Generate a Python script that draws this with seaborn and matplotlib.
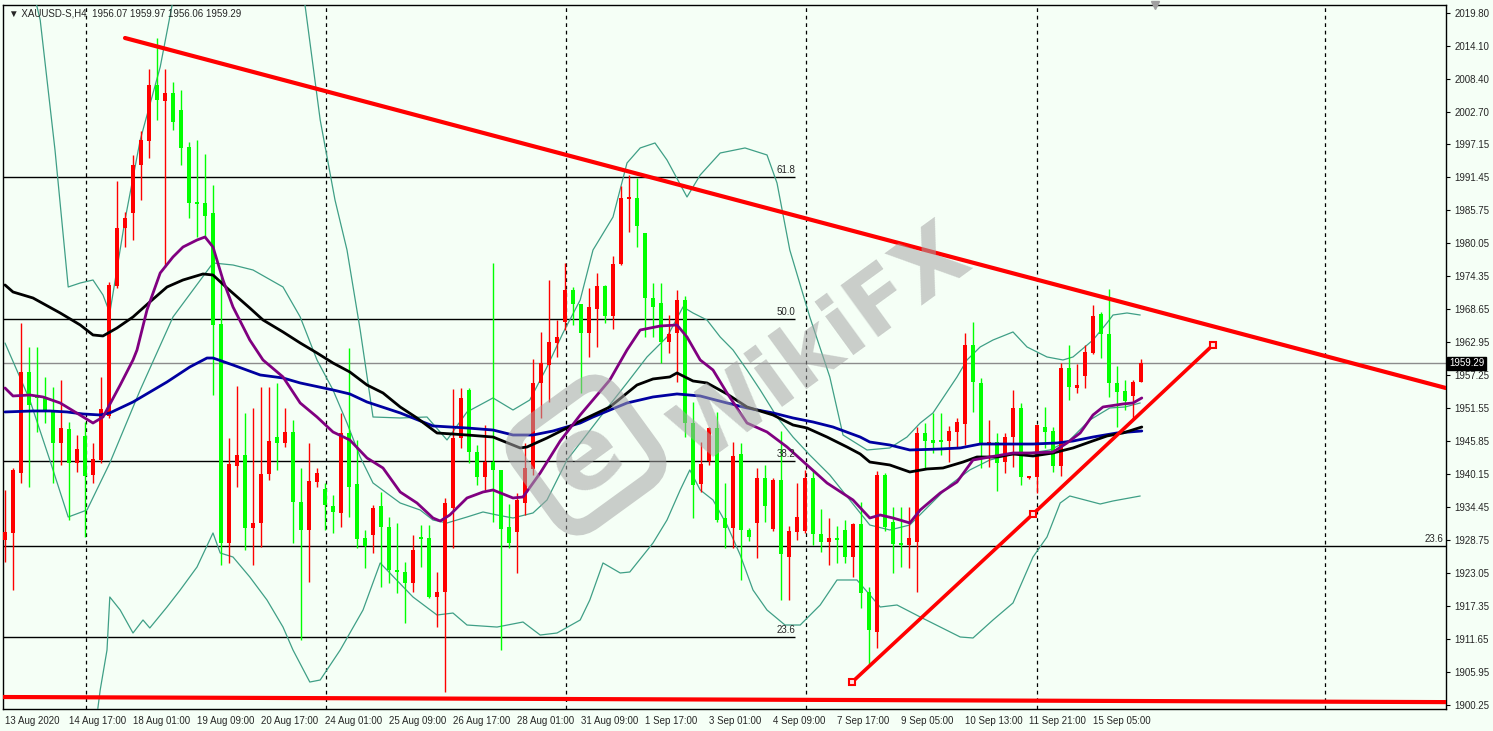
# XAUUSD H4 chart (MT4 style) - candles, moving averages, bands, fib levels, trend lines
import numpy as np
import pandas as pd
import matplotlib
matplotlib.use("Agg")
import matplotlib.pyplot as plt
import matplotlib.transforms as mtransforms
from matplotlib.patches import FancyBboxPatch
import seaborn as sns

# ---------------------------------
# Data
# ---------------------------------
opens = [1928.75, 1929.96, 1940.33, 1957.78, 1953.60, 1953.29, 1951.22, 1945.51, 1947.93, 1942.05,
         1946.72, 1939.98, 1942.57, 1950.18, 1972.64, 1982.66, 1985.25, 1993.54, 1997.69, 2007.36,
         2004.60, 2005.98, 2003.04, 1996.65, 1987.15, 1986.98, 1985.25, 1966.07, 1928.23, 1941.53,
         1943.43, 1930.82, 1931.69, 1940.15, 1946.54, 1945.51, 1947.41, 1935.32, 1930.48, 1938.77,
         1937.56, 1934.63, 1933.42, 1947.24, 1938.43, 1929.09, 1929.61, 1934.63, 1930.99, 1923.56,
         1923.22, 1921.32, 1929.27, 1929.09, 1918.91, 1919.76, 1934.28, 1946.37, 1954.67, 1943.95,
         1939.64, 1942.22, 1940.85, 1931.00, 1930.13, 1935.14, 1941.02, 1955.88, 1958.98, 1962.79,
         1966.42, 1971.95, 1969.53, 1964.52, 1968.66, 1972.64, 1967.45, 1976.44, 1987.67, 1987.84,
         1981.79, 1970.56, 1969.70, 1962.96, 1964.52, 1970.22, 1948.96, 1938.43, 1942.40, 1948.10,
         1932.55, 1930.82, 1943.61, 1930.48, 1931.69, 1939.46, 1930.65, 1939.12, 1925.81, 1930.13,
         1930.30, 1939.46, 1929.78, 1928.40, 1929.09, 1930.48, 1925.81, 1931.51, 1919.76, 1912.85,
         1939.98, 1931.86, 1928.23, 1927.88, 1928.40, 1947.24, 1946.03, 1945.85, 1945.85, 1947.41,
         1948.79, 1962.44, 1955.88, 1945.16, 1945.68, 1942.22, 1946.54, 1951.56, 1939.46, 1939.64,
         1948.27, 1947.58, 1941.53, 1958.47, 1955.00, 1957.09, 1961.06, 1967.80, 1964.34, 1955.88,
         1954.49, 1953.63, 1956.07]
highs = [1937.39, 1941.19, 1966.25, 1962.06, 1962.06, 1956.92, 1955.19, 1956.40, 1949.14, 1946.89,
         1949.14, 1945.51, 1956.92, 1973.33, 1990.78, 1985.42, 1995.27, 1999.41, 2010.13, 2015.48,
         2010.13, 2007.88, 2006.50, 1997.52, 1997.86, 1995.44, 1990.09, 1974.19, 1946.37, 1955.36,
         1950.70, 1951.56, 1955.19, 1955.19, 1955.88, 1951.56, 1949.48, 1941.19, 1945.51, 1941.19,
         1938.60, 1936.53, 1950.70, 1961.88, 1946.03, 1930.48, 1934.80, 1937.04, 1932.72, 1931.69,
         1924.95, 1929.61, 1931.34, 1931.34, 1923.22, 1936.01, 1954.83, 1955.01, 1955.01, 1945.16,
         1948.62, 1976.61, 1940.85, 1934.97, 1936.87, 1945.51, 1960.02, 1964.69, 1973.67, 1966.76,
         1976.61, 1972.46, 1969.53, 1972.29, 1974.88, 1972.81, 1977.82, 1989.91, 1991.81, 1991.29,
         1981.79, 1973.15, 1973.15, 1967.62, 1971.95, 1970.91, 1952.59, 1945.68, 1948.27, 1950.87,
         1938.60, 1945.68, 1945.51, 1930.82, 1941.19, 1941.71, 1939.50, 1947.58, 1931.17, 1938.60,
         1940.85, 1940.85, 1934.11, 1932.55, 1931.17, 1932.20, 1931.60, 1935.32, 1920.63, 1940.67,
         1940.30, 1934.46, 1934.46, 1934.46, 1948.27, 1948.96, 1950.70, 1950.70, 1948.44, 1949.83,
         1964.52, 1966.42, 1956.74, 1949.48, 1947.24, 1947.24, 1954.67, 1952.42, 1939.80, 1948.70,
         1951.73, 1948.27, 1959.33, 1962.44, 1959.16, 1962.44, 1969.35, 1968.14, 1972.12, 1958.81,
         1956.40, 1956.40, 1959.97]
lows = [1924.95, 1920.11, 1938.60, 1937.91, 1947.41, 1948.96, 1938.60, 1941.71, 1932.20, 1940.50,
        1929.27, 1938.60, 1942.05, 1949.83, 1972.29, 1979.37, 1980.58, 1987.49, 1994.75, 2001.31,
        1975.92, 1999.59, 1993.54, 1984.39, 1981.10, 1981.10, 1953.80, 1924.43, 1924.78, 1937.91,
        1927.02, 1924.43, 1927.54, 1939.12, 1940.85, 1944.82, 1928.23, 1911.48, 1921.49, 1937.91,
        1930.48, 1929.96, 1930.99, 1932.72, 1927.37, 1923.91, 1926.50, 1920.63, 1921.32, 1919.59,
        1914.40, 1919.76, 1924.08, 1918.74, 1913.71, 1902.48, 1927.37, 1944.65, 1942.05, 1938.25,
        1937.39, 1931.86, 1909.75, 1927.37, 1923.05, 1933.07, 1939.98, 1949.83, 1952.59, 1960.37,
        1965.03, 1965.90, 1954.15, 1960.37, 1962.06, 1966.25, 1965.20, 1976.20, 1981.96, 1979.37,
        1963.82, 1963.82, 1959.33, 1961.06, 1956.05, 1946.54, 1932.55, 1937.04, 1941.71, 1931.86,
        1927.37, 1927.37, 1921.84, 1928.58, 1925.64, 1931.86, 1930.30, 1918.39, 1918.39, 1928.75,
        1930.00, 1927.88, 1926.68, 1924.43, 1924.78, 1924.78, 1922.36, 1917.02, 1907.15, 1910.08,
        1930.30, 1923.05, 1924.08, 1923.91, 1919.76, 1941.19, 1943.78, 1943.43, 1942.22, 1944.82,
        1945.16, 1950.87, 1941.19, 1941.36, 1937.22, 1940.33, 1941.36, 1938.25, 1939.30, 1936.87,
        1944.65, 1940.50, 1939.81, 1952.94, 1954.15, 1955.01, 1960.90, 1960.20, 1953.46, 1948.27,
        1951.22, 1949.66, 1956.06]
closes = [1930.13, 1940.85, 1957.78, 1952.08, 1953.20, 1951.22, 1945.51, 1948.10, 1942.05, 1944.47,
          1939.81, 1942.74, 1951.39, 1972.81, 1982.66, 1984.39, 1993.54, 1997.86, 2007.36, 2004.77,
          2005.98, 2000.97, 1996.48, 1986.98, 1986.80, 1984.73, 1965.90, 1928.23, 1941.88, 1943.43,
          1930.82, 1931.69, 1940.15, 1945.85, 1945.51, 1947.41, 1935.32, 1930.48, 1938.94, 1940.33,
          1934.80, 1933.59, 1947.24, 1937.91, 1928.92, 1927.71, 1934.28, 1930.99, 1923.56, 1923.22,
          1921.32, 1927.02, 1928.92, 1918.91, 1919.76, 1935.14, 1946.37, 1953.29, 1943.95, 1939.64,
          1942.22, 1940.85, 1930.65, 1928.23, 1935.66, 1941.19, 1955.88, 1959.33, 1962.96, 1963.82,
          1971.95, 1969.53, 1964.52, 1969.01, 1972.64, 1967.45, 1976.44, 1987.84, 1987.84, 1983.00,
          1970.56, 1969.01, 1962.96, 1964.34, 1970.22, 1948.96, 1938.25, 1941.88, 1948.10, 1932.20,
          1930.82, 1943.26, 1930.48, 1929.27, 1939.46, 1934.63, 1939.12, 1926.33, 1930.30, 1932.72,
          1939.46, 1929.78, 1928.40, 1929.09, 1928.75, 1925.81, 1931.51, 1919.59, 1913.20, 1939.98,
          1931.00, 1928.06, 1927.88, 1929.09, 1947.24, 1945.85, 1945.51, 1945.68, 1947.58, 1949.14,
          1962.44, 1956.05, 1945.16, 1945.68, 1942.05, 1946.54, 1951.56, 1939.64, 1939.64, 1948.62,
          1947.41, 1941.53, 1958.47, 1955.19, 1955.54, 1961.23, 1967.45, 1964.34, 1955.88, 1954.32,
          1952.77, 1956.05, 1959.29]

# fast MA (purple)
ma_fast_x = [0, 1, 3.1, 4.75, 6.9, 8.75, 11, 12.25, 14.4, 16, 16.5, 17.75, 19.4, 21, 22.25, 24, 25, 26,
             27.25, 28.5, 30.6, 32.25, 34.75, 36.9, 39, 41, 43.1, 45.25, 47.25, 49.4, 51.5, 53.5, 54.4,
             55.6, 57.75, 59.75, 61, 63.5, 64.75, 66.9, 69.4, 71.9, 75.6, 77.75, 79.4, 81.9, 84, 85.25,
             86.9, 88.5, 90.25, 92.75, 95.25, 97.75, 100.25, 102.75, 106, 108.1, 109.4, 111, 113.1,
             114.4, 116.9, 119, 121, 123.1, 126, 128.1, 131, 132.75, 134.4, 136, 137.25, 139.75, 141, 142.1]
ma_fast_y = [1955.01, 1953.63, 1953.80, 1953.46, 1952.42, 1950.87, 1948.96, 1950.00, 1955.53, 1959.85,
             1961.58, 1968.49, 1974.88, 1977.65, 1979.37, 1980.58, 1981.10, 1979.37, 1973.67, 1969.01,
             1963.30, 1959.85, 1956.92, 1952.42, 1950.00, 1947.41, 1946.03, 1942.92, 1941.19, 1937.04,
             1935.14, 1932.55, 1932.03, 1933.07, 1936.01, 1937.04, 1937.39, 1936.01, 1936.18, 1940.33,
             1945.85, 1950.35, 1956.39, 1961.58, 1965.03, 1965.72, 1965.90, 1963.82, 1959.85, 1958.12,
             1954.15, 1948.96, 1947.41, 1944.82, 1941.71, 1938.60, 1935.66, 1932.55, 1933.07, 1932.55,
             1931.69, 1933.93, 1936.87, 1938.77, 1942.57, 1943.09, 1943.78, 1943.78, 1943.95, 1945.51,
             1947.24, 1950.35, 1951.73, 1952.25, 1952.42, 1953.29]

# medium MA (black)
ma_mid_x = [0, 1, 3.5, 6.9, 9.4, 11, 12.25, 14, 16, 18.1, 20.25, 22.25, 24.75, 26, 27.75, 30.6, 32.25,
            34.75, 36.9, 39, 41, 43.1, 45.25, 47.25, 49.4, 51.5, 54, 57.75, 61, 64.4, 65.25, 67.75,
            70.25, 71.9, 75.6, 79, 81, 83.1, 84, 86, 87.75, 90.25, 92.75, 96, 98.5, 100.25, 102.75,
            105.25, 106.9, 108.1, 110.6, 113.1, 115.25, 117.25, 119.75, 121.5, 124, 126, 128.5, 131,
            133.5, 135.6, 137.75, 139.75, 142.1]
ma_mid_y = [1972.81, 1971.60, 1970.56, 1967.97, 1965.90, 1964.17, 1964.00, 1965.38, 1967.28, 1969.87,
            1972.46, 1973.67, 1974.71, 1974.53, 1972.29, 1968.83, 1966.76, 1964.69, 1962.79, 1961.06,
            1959.33, 1957.78, 1955.53, 1954.15, 1951.73, 1949.83, 1947.24, 1946.89, 1946.54, 1944.65,
            1944.82, 1946.37, 1948.10, 1949.31, 1951.73, 1955.53, 1956.57, 1956.92, 1957.61, 1956.22,
            1955.88, 1953.98, 1951.73, 1950.35, 1948.62, 1948.10, 1946.54, 1944.82, 1943.61, 1942.22,
            1941.71, 1940.50, 1941.02, 1941.19, 1942.22, 1943.09, 1943.09, 1943.61, 1943.26, 1943.78,
            1944.65, 1945.68, 1946.72, 1947.24, 1948.27]

# slow MA (blue)
ma_slow_x = [0, 3.5, 5.6, 7.75, 9.75, 11.9, 13.1, 16, 20.25, 23.1, 25.25, 26, 28.5, 31.9, 34.75, 36.9,
             41, 43.1, 45.25, 49.4, 53.5, 57.75, 61, 63.5, 66, 68.5, 71.9, 73.5, 77.75, 81, 84, 86.9,
             90.25, 92.75, 96, 98.5, 101, 103.5, 106.9, 108.1, 110.6, 113.1, 116.9, 119.4, 121.9,
             125.25, 128.5, 131.5, 133.5, 136, 139, 142.1]
ma_slow_y = [1950.87, 1951.04, 1951.04, 1950.87, 1950.52, 1950.35, 1950.70, 1952.59, 1956.05, 1958.64,
             1960.19, 1960.19, 1958.98, 1957.26, 1956.74, 1955.88, 1954.67, 1953.98, 1952.59, 1950.70,
             1948.45, 1948.10, 1947.75, 1946.89, 1946.89, 1947.58, 1948.96, 1950.00, 1952.42, 1953.46,
             1953.98, 1953.63, 1952.42, 1951.56, 1950.70, 1949.83, 1949.14, 1948.27, 1946.54, 1945.68,
             1945.16, 1944.30, 1944.47, 1944.65, 1945.33, 1945.33, 1945.33, 1945.51, 1945.85, 1946.54,
             1947.24, 1947.58]

# band lines (thin teal)
band_up_a_x = [3.5, 4.4, 6.25, 7.9, 9.4, 11, 12.25, 13.1, 15, 16.9, 19.4, 21.25]
band_up_a_y = [2023.77, 2018.59, 1996.13, 1972.46, 1973.15, 1973.67, 1971.08, 1967.97, 1984.04,
               1997.86, 2010.47, 2023.77]
band_up_b_x = [36.9, 37.5, 39.4, 41.25, 42.75, 44.4, 46, 49.4, 52.75, 55.25, 57.75, 61, 63.5, 65.6,
               67.75, 69.75, 71.9, 73.5, 76, 77.75, 79.4, 81.25, 82.75, 85.25, 86.9, 89.4, 92.5,
               95.25, 96.5, 98.1, 100.6, 103.1, 104.75, 107.75, 110.6, 112.75, 114.4, 116, 119,
               120.25, 121.9, 123.5, 126, 127.75, 130.25, 132.25, 133.5, 136, 137.75, 138.5, 140.25, 141.9]
band_up_b_y = [2023.77, 2021.18, 2001.31, 1987.49, 1978.85, 1965.03, 1950.00, 1949.83, 1950.00, 1946.03,
               1950.87, 1953.29, 1951.21, 1952.94, 1958.64, 1964.52, 1970.22, 1978.85, 1984.55, 1993.88,
               1996.48, 1997.34, 1994.40, 1988.01, 1991.81, 1995.61, 1996.48, 1995.27, 1990.43, 1978.85,
               1967.28, 1956.92, 1946.89, 1944.30, 1944.65, 1946.54, 1948.96, 1950.70, 1956.92, 1959.85,
               1962.10, 1963.30, 1964.69, 1962.10, 1960.37, 1959.85, 1960.37, 1963.30, 1966.25, 1967.62,
               1967.97, 1967.62]
band_lo_x = [11.5, 11.9, 12.75, 13.1, 14.4, 16, 17.25, 18.1, 20.25, 21.9, 24, 26, 26.9, 28.5, 30.6,
             32.75, 34.75, 36, 38.1, 39.4, 41.9, 44.75, 46.9, 48.1, 51, 54, 56, 57.75, 61.5, 64.75,
             66.9, 69, 71.9, 73.1, 74.75, 76.9, 78.1, 81, 82.75, 84.4, 85.6, 86.9, 88.5, 90.25, 91.9,
             93.5, 95.25, 97.5, 99.4, 101.9, 104, 106.5, 109.4, 111.5, 114.4, 119.4, 121, 123.5, 126,
             128.5, 130.25, 131.9, 133.1, 136.9, 138.5, 141.9]
band_lo_y = [1898.51, 1902.84, 1909.74, 1918.90, 1916.65, 1912.68, 1914.93, 1913.55, 1917.17, 1920.11,
             1924.08, 1929.96, 1926.50, 1925.81, 1922.36, 1918.38, 1913.71, 1909.74, 1904.21, 1904.56,
             1909.74, 1916.65, 1924.78, 1923.05, 1918.90, 1915.79, 1916.13, 1914.06, 1913.71, 1914.58,
             1912.33, 1912.68, 1914.93, 1918.38, 1924.78, 1923.05, 1923.22, 1928.23, 1932.20, 1937.39,
             1940.85, 1937.39, 1935.66, 1931.34, 1926.16, 1920.11, 1916.65, 1914.06, 1914.06, 1917.52,
             1921.84, 1921.84, 1917.17, 1917.52, 1915.45, 1911.99, 1911.82, 1914.93, 1917.87, 1925.81,
             1929.27, 1935.14, 1936.35, 1934.97, 1935.49, 1936.35]
band_mid_x = [0, 3.1, 5.6, 7.9, 10.25, 13.1, 16.9, 21, 26, 28.5, 31, 34.75, 36.9, 39, 41, 42.75, 44.4,
              46, 49.4, 51.9, 53.5, 55.25, 57.75, 59.75, 61.5, 63.5, 66, 67.75, 70.25, 71.9, 74.4,
              77.75, 80.25, 82.75, 84.75, 86, 87.75, 89.4, 91, 92.75, 94.4, 96.5, 98.5, 100.6, 103.1,
              105.6, 108.1, 110.6, 113.1, 115.6, 118.1, 120.6, 123.1, 125.6, 128.1, 130.6, 133.1,
              135.6, 138.1, 140, 141.9]
band_mid_y = [1962.78, 1952.94, 1942.57, 1932.72, 1933.93, 1942.05, 1954.67, 1967.28, 1976.61, 1976.26,
              1975.40, 1972.46, 1967.28, 1959.85, 1954.67, 1948.96, 1943.09, 1938.60, 1935.14, 1933.93,
              1932.20, 1931.69, 1932.72, 1933.59, 1933.07, 1932.55, 1933.42, 1935.66, 1942.57, 1945.51,
              1950.00, 1955.88, 1960.37, 1963.82, 1969.01, 1967.97, 1966.76, 1963.82, 1961.58, 1958.12,
              1954.67, 1950.00, 1946.54, 1943.43, 1939.98, 1935.66, 1931.34, 1930.48, 1931.34, 1934.80,
              1938.25, 1940.85, 1942.57, 1943.43, 1943.78, 1944.30, 1946.03, 1949.48, 1951.56, 1951.73,
              1952.42]

# fibonacci levels
fib_labels = ["61.8", "50.0", "38.2", "23.6"]
fib_prices = [1991.47, 1966.93, 1942.40, 1912.00]
fib2_label = "23.6"
fib2_price = 1927.71

# trend lines (bar index, price)
down_x = [15, 180.1]
down_y = [2015.48, 1955.01]
up_x = [105.9, 128.5, 151]
up_y = [1904.21, 1933.24, 1962.44]
flat_x = [-0.25, 180.1]
flat_y = [1901.62, 1900.74]

separators = [10.1, 40.1, 70.1, 100.1, 129.0, 165.0]
last_price = 1959.29

ytick_vals = [2019.80, 2014.10, 2008.40, 2002.70, 1997.15, 1991.45, 1985.75, 1980.05, 1974.35,
              1968.65, 1962.95, 1957.25, 1951.55, 1945.85, 1940.15, 1934.45, 1928.75, 1923.05,
              1917.35, 1911.65, 1905.95, 1900.25]
xtick_labels = ["13 Aug 2020", "14 Aug 17:00", "18 Aug 01:00", "19 Aug 09:00", "20 Aug 17:00",
                "24 Aug 01:00", "25 Aug 09:00", "26 Aug 17:00", "28 Aug 01:00", "31 Aug 09:00",
                "1 Sep 17:00", "3 Sep 01:00", "4 Sep 09:00", "7 Sep 17:00", "9 Sep 05:00",
                "10 Sep 13:00", "11 Sep 21:00", "15 Sep 05:00"]
xtick_step = 8

# ---------------------------------
# Style
# ---------------------------------
sns.set_style("white")
plt.rcParams['font.family'] = ['Liberation Sans', 'DejaVu Sans']

bg = '#f5fff6'
red = '#ff0000'
green = '#00ff00'
teal = '#3f9f86'
wm = '#a6a6a6'

fig = plt.figure(figsize=(14.93, 7.31), dpi=100, facecolor=bg)
ax = fig.add_axes([3 / 1493, 1 - 709 / 731, 1443 / 1493, 704 / 731])
ax.set_facecolor(bg)

# ---------------------------------
# Candles
# ---------------------------------
df = pd.DataFrame({"o": opens, "h": highs, "l": lows, "c": closes})
df["i"] = np.arange(len(df))
cols = np.where(df.c >= df.o, red, green)
ax.vlines(df.i, df.l, df.h, colors=cols, lw=1, zorder=4)
body_lo = np.minimum(df.o, df.c)
body_h = np.maximum((df.c - df.o).abs(), 0.3)
ax.bar(df.i, body_h, bottom=body_lo, width=0.62, color=cols, lw=0, zorder=5)

# ---------------------------------
# Bands and moving averages
# ---------------------------------
for bx, by in [(band_up_a_x, band_up_a_y), (band_up_b_x, band_up_b_y),
                (band_lo_x, band_lo_y), (band_mid_x, band_mid_y)]:
    sns.lineplot(x=bx, y=by, ax=ax, color=teal, lw=0.9, estimator=None, sort=False, zorder=3)

sns.lineplot(x=ma_slow_x, y=ma_slow_y, ax=ax, color='#0000a0', lw=2, estimator=None, zorder=6)
sns.lineplot(x=ma_mid_x, y=ma_mid_y, ax=ax, color='black', lw=2, estimator=None, zorder=6)
sns.lineplot(x=ma_fast_x, y=ma_fast_y, ax=ax, color='#800080', lw=2, estimator=None, zorder=6)

# ---------------------------------
# Levels, separators, trend lines
# ---------------------------------
xmin, xmax = -0.25, 180.125
fib_end = 98.75
for lab, p in zip(fib_labels, fib_prices):
    ax.hlines(p, xmin, fib_end, color='black', lw=1, zorder=2)
    ax.text(fib_end, p + 0.35, lab, ha='right', va='bottom', fontsize=7, zorder=7)
ax.hlines(fib2_price, xmin, xmax, color='black', lw=1, zorder=2)
ax.text(179.8, fib2_price + 0.35, fib2_label, ha='right', va='bottom', fontsize=7, zorder=7)

ax.axhline(last_price, color='#8c8c8c', lw=1, zorder=2)

for s in separators:
    ax.axvline(s, color='black', lw=0.9, ls=(0, (3, 3)), zorder=2)

sns.lineplot(x=down_x, y=down_y, ax=ax, color=red, lw=3, estimator=None, zorder=8)
sns.lineplot(x=up_x, y=up_y, ax=ax, color=red, lw=2.6, estimator=None, zorder=8)
ax.plot(up_x, up_y, ls='none', marker='s', ms=5, mfc='#ffe5e5', mec=red, mew=1.5, zorder=9)
sns.lineplot(x=flat_x, y=flat_y, ax=ax, color=red, lw=3, estimator=None, zorder=8)

# ---------------------------------
# Watermark
# ---------------------------------
ax.text(0.568, 0.515, "WikiFX", transform=ax.transAxes, rotation=36, fontsize=63,
        fontweight='bold', family='DejaVu Sans', color=wm, alpha=0.55,
        ha='center', va='center', zorder=10)
logo_tf = mtransforms.Affine2D().rotate_deg(36).translate(586, 731 - 455)
logo = FancyBboxPatch((-58, -58), 116, 116, boxstyle='round,pad=0,rounding_size=26',
                      fill=False, lw=12, ec=wm, alpha=0.55, transform=logo_tf, zorder=10)
ax.add_artist(logo)
ax.text(0.404, 0.357, "e", transform=ax.transAxes, rotation=36, fontsize=72, fontweight='bold',
        family='DejaVu Sans', color=wm, alpha=0.55, ha='center', va='center', zorder=10)

# ---------------------------------
# Axes
# ---------------------------------
ax.set_xlim(xmin, xmax)
ax.set_ylim(1899.55, 2021.18)
ax.yaxis.tick_right()
ax.set_yticks(ytick_vals)
ax.set_yticklabels([f"{v:.2f}" for v in ytick_vals])
ax.set_xticks(np.arange(len(xtick_labels)) * xtick_step)
ax.set_xticklabels(xtick_labels, ha='left')
ax.tick_params(axis='both', labelsize=7, length=3, width=0.8, color='black', direction='out')
ax.tick_params(axis='y', pad=3)
ax.tick_params(axis='x', pad=2)
ax.set_xlabel("")
ax.set_ylabel("")
for sp in ax.spines.values():
    sp.set_color('black')
    sp.set_linewidth(1)

# current price tag
tag_tf = mtransforms.blended_transform_factory(ax.transAxes, ax.transData)
ax.text(1.002, last_price, f"{last_price:.2f}", transform=tag_tf, ha='left', va='center',
        fontsize=7, color='white', zorder=11,
        bbox=dict(boxstyle='square,pad=0.15', fc='black', ec='black'))

# header
ax.text(0.004, 0.988, "\u25bc XAUUSD-S,H4  1956.07 1959.97 1956.06 1959.29", transform=ax.transAxes,
        ha='left', va='center', fontsize=7, zorder=11)
ax.plot([143.75], [2021.18], marker='v', color='#a0a0a0', ms=6, clip_on=False, zorder=11)

fig.savefig("out.png", dpi=100, facecolor=bg)
